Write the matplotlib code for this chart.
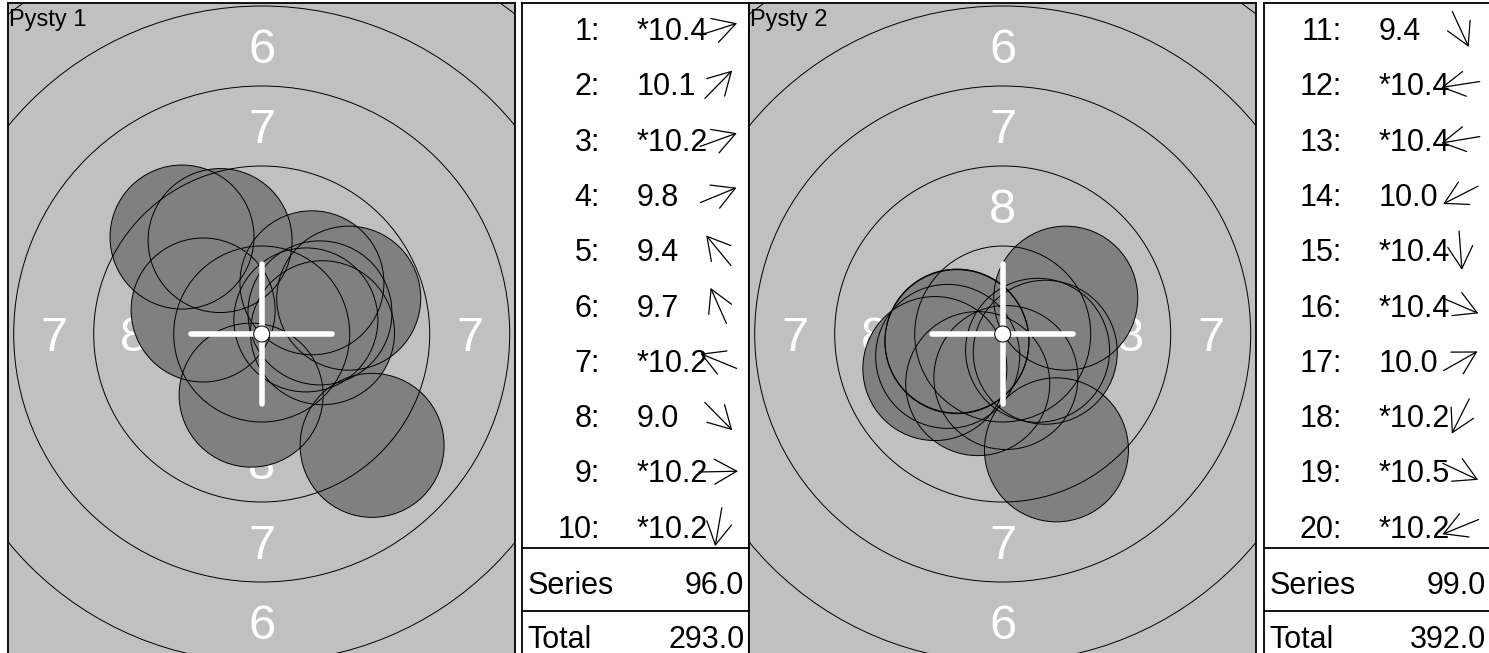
import math

import matplotlib
matplotlib.use("Agg")
import matplotlib.pyplot as plt
from matplotlib.patches import Circle

plt.rcParams['font.family'] = ['Liberation Sans', 'DejaVu Sans']

# series 1
shot_no_1 = [1, 2, 3, 4, 5, 6, 7, 8, 9, 10]
scores_1 = ['*10.4', '10.1', '*10.2', '9.8', '9.4', '9.7', '*10.2', '9.0', '*10.2', '*10.2']
shot_x_1 = [1.38, 1.57, 1.82, 2.72, -2.49, -1.30, -1.83, 3.45, 1.90, -0.33]   # mm from centre
shot_y_1 = [0.44, 1.60, 0.66, 1.12, 3.03, 2.92, 0.75, -3.48, 0.04, -1.91]
series_1 = '96.0'
total_1 = '293.0'

# series 2
shot_no_2 = [11, 12, 13, 14, 15, 16, 17, 18, 19, 20]
scores_2 = ['9.4', '*10.4', '*10.4', '10.0', '*10.4', '*10.4', '10.0', '*10.2', '*10.5', '*10.2']
shot_x_2 = [1.68, -1.43, -1.43, -2.12, 0.10, 1.33, 1.97, -0.78, 1.09, -1.72]
shot_y_2 = [-3.62, -0.22, -0.24, -1.08, -1.36, -0.57, 1.12, -1.55, -0.51, -0.70]
series_2 = '99.0'
total_2 = '392.0'

ring_radii = [2.75, 5.25, 7.75, 10.25, 12.75, 15.25]   # mm, rings 9..4
ring_labels = ['8', '7', '6', '5', '4']
shot_r = 2.25
ten_r = 0.25

W, H = 1489, 653
PX_MM = 32.0
fig = plt.figure(figsize=(W / 100, H / 100), dpi=100)


def px_axes(l, t, r, b):
    return fig.add_axes([l / W, 1 - b / H, (r - l) / W, (b - t) / H])


def draw_target(cx, xs, ys, title):
    cy = 334.0
    hw, hh = 253.5, 331.5
    ax = px_axes(cx - hw, cy - hh, cx + hw, cy + hh)
    ax.set_xlim(-hw / PX_MM, hw / PX_MM)
    ax.set_ylim(-hh / PX_MM, hh / PX_MM)
    ax.set_facecolor('#c0c0c0')
    ax.set_xticks([])
    ax.set_yticks([])
    for s in ax.spines.values():
        s.set_linewidth(1.3)

    # ring numbers, under the shots (baseline shifted so digits sit centred)
    half_cap = 17.4 / PX_MM
    for i, lab in enumerate(ring_labels):
        r = (ring_radii[i] + ring_radii[i + 1]) / 2
        for px, py in [(0, r), (0, -r), (-r, 0), (r, 0)]:
            ax.text(px, py - half_cap, lab, color='white', fontsize=35, ha='center',
                    va='baseline', clip_on=True, zorder=1)

    for x, y in zip(xs, ys):
        ax.add_patch(Circle((x, y), shot_r, fc='#808080', ec='none', zorder=2))
    for x, y in zip(xs, ys):
        ax.add_patch(Circle((x, y), shot_r, fill=False, ec='black', lw=0.7, zorder=3))

    for r in ring_radii:
        ax.add_patch(Circle((0, 0), r, fill=False, ec='black', lw=0.7, zorder=4))

    ax.plot([-2.2, 2.2], [0, 0], color='white', lw=4, solid_capstyle='round', zorder=5)
    ax.plot([0, 0], [-2.2, 2.2], color='white', lw=4, solid_capstyle='round', zorder=5)
    ax.add_patch(Circle((0, 0), ten_r, fc='white', ec='black', lw=0.7, zorder=6))

    ax.text(0.002, 0.99, title, transform=ax.transAxes, fontsize=17,
            ha='left', va='top', zorder=7)


def draw_table(left, nos, scores, xs, ys, series, total):
    ax = px_axes(left, 2.5, left + 227, 674)
    ax.set_xlim(0, 227)
    ax.set_ylim(671.5, 0)
    ax.set_xticks([])
    ax.set_yticks([])
    for s in ax.spines.values():
        s.set_linewidth(1.3)

    half_cap = 10.9
    for i, (n, sc, x, y) in enumerate(zip(nos, scores, xs, ys)):
        ry = 26.7 + 55.3 * i
        ax.text(78, ry + half_cap, f'{n}:', fontsize=22, ha='right', va='baseline')
        ax.text(115, ry + half_cap, sc, fontsize=22, ha='left', va='baseline')
        a = math.atan2(y, x)
        dx, dy = 19.5 * math.cos(a), -19.5 * math.sin(a)
        ax.annotate('', xy=(196.5 + dx, ry + dy), xytext=(196.5 - dx, ry - dy),
                    arrowprops=dict(arrowstyle='->,head_length=0.8,head_width=0.45',
                                    lw=0.9, color='black', mutation_scale=20,
                                    shrinkA=0, shrinkB=0))

    ax.axhline(545.2, color='black', lw=1.3)
    ax.axhline(608.5, color='black', lw=1.3)
    ax.text(5.7, 580.5 + half_cap, 'Series', fontsize=22, ha='left', va='baseline')
    ax.text(222.3, 580.5 + half_cap, series, fontsize=22, ha='right', va='baseline')
    ax.text(5.7, 634.2 + half_cap, 'Total', fontsize=22, ha='left', va='baseline')
    ax.text(222.3, 634.2 + half_cap, total, fontsize=22, ha='right', va='baseline')


draw_target(261.7, shot_x_1, shot_y_1, 'Pysty 1')
draw_table(522, shot_no_1, scores_1, shot_x_1, shot_y_1, series_1, total_1)
draw_target(1002.7, shot_x_2, shot_y_2, 'Pysty 2')
draw_table(1264, shot_no_2, scores_2, shot_x_2, shot_y_2, series_2, total_2)

fig.savefig('out.png', dpi=100)
